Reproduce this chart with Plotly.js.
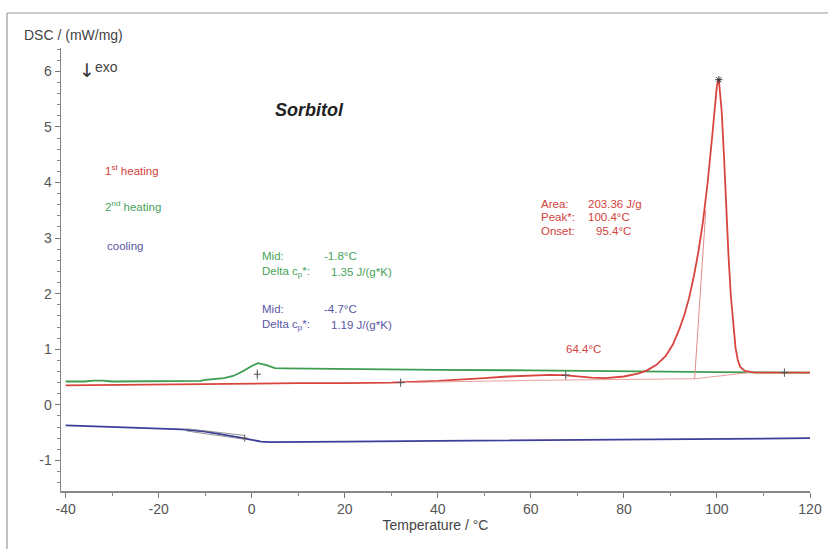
<!DOCTYPE html>
<html>
<head>
<meta charset="utf-8">
<script src="https://cdn.plot.ly/plotly-3.0.1.min.js"></script>
<style>html,body{margin:0;padding:0;background:#fff;}#chart{width:828px;height:549px;}</style>
</head>
<body>
<div id="chart"></div>
<script>
// ---- data ----
const heat1T = [-40,-30,-20,-10,0,10,20,30,40,45,50,55,60,64,67,70,73,76,80,83,85,87,89,90.5,92,93,94,95,96,97,98,99,99.6,100,100.4,101,101.5,102,102.5,103,103.5,104,104.5,105,106,108,115,120];
const heat1Y = [0.35,0.36,0.37,0.38,0.38,0.39,0.39,0.40,0.43,0.45,0.48,0.51,0.53,0.54,0.535,0.51,0.49,0.48,0.51,0.56,0.62,0.72,0.88,1.08,1.38,1.62,1.92,2.3,2.75,3.3,4.0,4.85,5.45,5.75,5.85,5.3,4.5,3.5,2.65,1.95,1.4,1.02,0.8,0.68,0.61,0.58,0.58,0.58];

const heat2T = [-40,-36,-34,-32,-30,-20,-15,-11,-10,-6,-4,-2,0,1.3,3,5,7,20,40,60,80,100,120];
const heat2Y = [0.42,0.42,0.435,0.435,0.42,0.42,0.43,0.43,0.45,0.48,0.52,0.60,0.70,0.75,0.72,0.66,0.655,0.65,0.63,0.62,0.60,0.59,0.58];

const coolT = [-40,-30,-20,-15,-10,-6,-3,0,2,4,10,20,40,60,80,100,120];
const coolY = [-0.37,-0.40,-0.42,-0.44,-0.48,-0.53,-0.58,-0.63,-0.66,-0.67,-0.67,-0.66,-0.65,-0.64,-0.62,-0.61,-0.60];

// evaluation construction lines
const baseT = [32,60,95.2,107];
const baseY = [0.40,0.44,0.47,0.58];
const tangT = [95.2,97.6];
const tangY = [0.47,3.5];
const gTanT = [1.2,1.2];
const gTanY = [0.45,0.64];
const bTan1T = [-14,-1.5];
const bTan1Y = [-0.43,-0.55];
const bTan2T = [-14,-1.5];
const bTan2Y = [-0.47,-0.62];
const redMarkT = [32,67.5,114.5];
const redMarkY = [0.40,0.535,0.58];
const peakT = [100.4];
const peakY = [5.85];
const gtMarkT = [1.2,-1.5];
const gtMarkY = [0.55,-0.6];

const xTickVals = [-40,-20,0,20,40,60,80,100,120];
const xTickText = ['-40','-20','0','20','40','60','80','100','120'];
const yTickVals = [-1,0,1,2,3,4,5,6];
const yTickText = ['-1','0','1','2','3','4','5','6'];

const RED = '#d8443e', GREEN = '#3e9c50', BLUE = '#3d3d9c';
const F = 'Liberation Sans, Arial, sans-serif';

const traces = [
  {x: heat2T, y: heat2Y, mode:'lines', line:{color:GREEN, width:1.8}},
  {x: heat1T, y: heat1Y, mode:'lines', line:{color:RED, width:1.8}},
  {x: coolT, y: coolY, mode:'lines', line:{color:BLUE, width:1.8}},
  {x: baseT, y: baseY, mode:'lines', line:{color:'#e8a0a0', width:1}},
  {x: tangT, y: tangY, mode:'lines', line:{color:'#e08a8a', width:1}},
  {x: gTanT, y: gTanY, mode:'lines', line:{color:'#888', width:1}},
  {x: bTan1T, y: bTan1Y, mode:'lines', line:{color:'#777', width:0.8}},
  {x: bTan2T, y: bTan2Y, mode:'lines', line:{color:'#777', width:0.8}},
  {x: redMarkT, y: redMarkY, mode:'markers', marker:{symbol:'cross-thin', size:6, line:{color:'#555', width:1}}},
  {x: peakT, y: peakY, mode:'markers', marker:{symbol:'asterisk', size:6, line:{color:'#333', width:1}}},
  {x: gtMarkT, y: gtMarkY, mode:'markers', marker:{symbol:'cross-thin', size:5, line:{color:'#555', width:1}}}
];

function ann(x, y, text, color, size, extra) {
  return Object.assign({x:x, y:y, xref:'x', yref:'y', text:text, showarrow:false,
    xanchor:'left', yanchor:'middle', font:{family:F, size:size, color:color}}, extra||{});
}
const GT = '#47a35a', BT = '#5757a6', RT = '#d2423c';
const annotations = [
  {x:-0.052, y:1.029, xref:'paper', yref:'paper', text:'DSC / (mW/mg)', showarrow:false, xanchor:'left', yanchor:'middle', font:{family:F, size:14, color:'#444'}},
  {x:-37.6, y:6.02, xref:'x', yref:'y', text:'↓', showarrow:false, xanchor:'left', yanchor:'middle', font:{family:'DejaVu Sans, sans-serif', size:19, color:'#333'}},
  ann(-34.2, 6.07, 'exo', '#444', 14),
  ann(12.5, 5.3, '<b><i>Sorbitol</i></b>', '#222', 18, {xanchor:'center'}),
  ann(-32, 4.23, '1<sup>st</sup> heating', RT, 11.5),
  ann(-32, 3.58, '2<sup>nd</sup> heating', GT, 11.5),
  ann(-31.5, 2.86, 'cooling', BT, 11.5),
  ann(1.7, 2.68, 'Mid:', GT, 11.5),
  ann(15.0, 2.68, '-1.8°C', GT, 11.5),
  ann(1.7, 2.39, 'Delta c<sub>p</sub>*:', GT, 11.5),
  ann(16.7, 2.39, '1.35 J/(g*K)', GT, 11.5),
  ann(1.7, 1.73, 'Mid:', BT, 11.5),
  ann(15.2, 1.73, '-4.7°C', BT, 11.5),
  ann(1.7, 1.44, 'Delta c<sub>p</sub>*:', BT, 11.5),
  ann(16.7, 1.44, '1.19 J/(g*K)', BT, 11.5),
  ann(61.8, 3.62, 'Area:', RT, 11.5),
  ann(71.8, 3.62, '203.36 J/g', RT, 11.5),
  ann(61.8, 3.38, 'Peak*:', RT, 11.5),
  ann(71.8, 3.38, '100.4°C', RT, 11.5),
  ann(61.8, 3.13, 'Onset:', RT, 11.5),
  ann(73.5, 3.13, '95.4°C', RT, 11.5),
  ann(67.2, 1.01, '64.4°C', RT, 11.5)
];

const layout = {
  width: 828, height: 549,
  margin: {l:61, r:18, t:48, b:58, pad:0},
  paper_bgcolor:'#fff', plot_bgcolor:'#fff',
  showlegend:false,
  font:{family:F, color:'#555'},
  xaxis: {
    range:[-41,120], tickvals:xTickVals, ticktext:xTickText,
    ticks:'outside', ticklen:5, tickcolor:'#777', tickwidth:1,
    minor:{tickvals:[-30,-10,10,30,50,70,90,110], ticks:'outside', ticklen:3, tickcolor:'#888'},
    showline:true, linecolor:'#888', linewidth:1.5, showgrid:false, zeroline:false,
    tickfont:{family:F, size:14, color:'#555'},
    title:{text:'Temperature / °C', standoff:0, font:{family:F, size:14, color:'#444'}}
  },
  yaxis: {
    range:[-1.55,6.42], tickvals:yTickVals, ticktext:yTickText,
    ticks:'outside', ticklen:5, tickcolor:'#777', tickwidth:1,
    minor:{dtick:0.2, ticks:'outside', ticklen:3, tickcolor:'#888'},
    showline:true, linecolor:'#888', linewidth:1.5, showgrid:false, zeroline:false,
    tickfont:{family:F, size:14, color:'#555'}
  },
  shapes: [
    {type:'line', xref:'paper', yref:'paper', x0:-0.0721, x1:1.03, y0:1.079, y1:1.079, line:{color:'#999', width:1.2}},
    {type:'line', xref:'paper', yref:'paper', x0:-0.0721, x1:-0.0721, y0:1.079, y1:-0.14, line:{color:'#999', width:1.2}}
  ],
  annotations: annotations
};

Plotly.newPlot('chart', traces, layout, {staticPlot:true, displayModeBar:false});
</script>
</body>
</html>
